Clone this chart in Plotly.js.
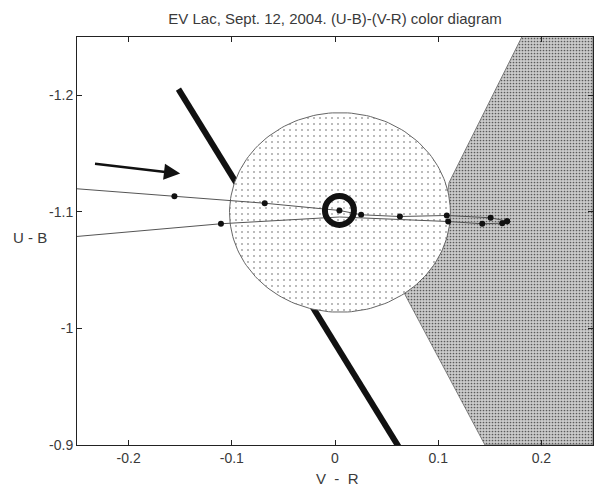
<!DOCTYPE html>
<html><head><meta charset="utf-8">
<script src="https://cdn.plot.ly/plotly-3.0.1.min.js"></script>
<style>body{margin:0;background:#fff}#chart{width:595px;height:490px}</style>
</head><body><div id="chart"></div>
<script>
// Outgoing branch of the flare track (upper-left line)
const outVR = [-0.30, -0.1556, -0.0681, 0.0043, 0.0253, 0.0629, 0.1083, 0.1508, 0.1668];
const outUB = [-1.1232, -1.1134, -1.1074, -1.1012, -1.0975, -1.0960, -1.0969, -1.0949, -1.0920];
// Returning branch (lower-left line)
const backVR = [0.1668, 0.1620, 0.1427, 0.1097, 0.0043, -0.1105, -0.30];
const backUB = [-1.0920, -1.0903, -1.0898, -1.0917, -1.0956, -1.0898, -1.0750];
const backObserved = [true, true, true, true, false, true, true];
// Quiescent star point
const quietVR = [0.0043];
const quietUB = [-1.1012];
// Uncertainty ellipse around the quiescent point
const ellCenter = [0.0048, -1.0995];
const ellRadii = [0.107, 0.0856];
// Shaded region (right)
const regionVR = [0.181, 0.1105, 0.106, 0.0671, 0.1453, 0.25, 0.25];
const regionUB = [-1.25, -1.1251, -1.0975, -1.0302, -0.90, -0.90, -1.25];
// Thick black line
const bandVR = [-0.1517, 0.0641];
const bandUB = [-1.2053, -0.895];
// Arrow (direction of the track)
const arrowFrom = [-0.234, -1.1414];
const arrowTo = [-0.150, -1.1328];
// Ticks
const xTickVals = [-0.2, -0.1, 0, 0.1, 0.2];
const xTickText = ['-0.2', '-0.1', '0', '0.1', '0.2'];
const yTickVals = [-1.2, -1.1, -1, -0.9];
const yTickText = ['-1.2', '-1.1', '-1', '-0.9'];

const ex = [], ey = [];
const N = 180;
for (let i = 0; i <= N; i++) {
  const t = 2 * Math.PI * i / N;
  ex.push(ellCenter[0] + ellRadii[0] * Math.cos(t));
  ey.push(ellCenter[1] + ellRadii[1] * Math.sin(t));
}
const bmx = backVR.filter((v, i) => backObserved[i]);
const bmy = backUB.filter((v, i) => backObserved[i]);

const FONT = '"Liberation Sans", Arial, sans-serif';
const TXT = '#3a3a3a';

const traces = [
  {x: regionVR, y: regionUB, mode: 'lines', fill: 'toself',
   line: {color: '#666', width: 0.8}, fillcolor: '#bababa',
   fillpattern: {shape: '.', size: 3, solidity: 0.25, fgcolor: '#5a5a5a', bgcolor: '#cbcbcb'},
   hoverinfo: 'skip'},
  {x: bandVR, y: bandUB, mode: 'lines', line: {color: '#111', width: 6}, hoverinfo: 'skip'},
  {x: ex, y: ey, mode: 'lines', fill: 'toself', line: {color: '#666', width: 1},
   fillcolor: '#fff',
   fillpattern: {shape: '.', size: 6, solidity: 0.04, fgcolor: '#444', bgcolor: '#fff'},
   hoverinfo: 'skip'},
  {x: outVR, y: outUB, mode: 'lines+markers', line: {color: '#555', width: 1},
   marker: {color: '#111', size: 6}},
  {x: backVR, y: backUB, mode: 'lines', line: {color: '#555', width: 1}},
  {x: bmx, y: bmy, mode: 'markers', marker: {color: '#111', size: 6}},
  {x: quietVR, y: quietUB, mode: 'markers',
   marker: {symbol: 'circle-open', size: 29, color: '#111', line: {width: 6, color: '#111'}}}
];

const axisCommon = {
  showgrid: false, zeroline: false, showline: true, linecolor: '#222', linewidth: 1,
  mirror: 'ticks', ticks: 'inside', ticklen: 5, tickcolor: '#222', tickwidth: 1,
  tickmode: 'array', tickfont: {family: FONT, size: 14, color: TXT}
};

const layout = {
  width: 595, height: 490,
  margin: {l: 77, r: 2, t: 37, b: 45},
  paper_bgcolor: '#fff', plot_bgcolor: '#fff',
  showlegend: false,
  font: {family: FONT, color: TXT},
  title: {text: 'EV Lac, Sept. 12, 2004. (U-B)-(V-R) color diagram',
          font: {family: FONT, size: 15, color: TXT},
          x: 0.5, xref: 'paper', xanchor: 'center', y: 1 - 19 / 490, yanchor: 'middle'},
  xaxis: Object.assign({}, axisCommon, {range: [-0.25, 0.25], tickvals: xTickVals, ticktext: xTickText}),
  yaxis: Object.assign({}, axisCommon, {range: [-0.9, -1.25], tickvals: yTickVals, ticktext: yTickText}),
  annotations: [
    {x: arrowTo[0], y: arrowTo[1], ax: arrowFrom[0], ay: arrowFrom[1],
     xref: 'x', yref: 'y', axref: 'x', ayref: 'y', text: '', showarrow: true,
     arrowhead: 2, arrowsize: 1.3, arrowwidth: 2.5, arrowcolor: '#111'},
    {text: 'U - B', xref: 'paper', yref: 'paper', x: (29.5 - 77) / 516, y: 1 - (237 - 37) / 408,
     xanchor: 'center', yanchor: 'middle', showarrow: false, font: {family: FONT, size: 15, color: TXT}},
    {text: 'V  -  R', xref: 'paper', yref: 'paper', x: (337 - 77) / 516, y: 1 - (479 - 37) / 408,
     xanchor: 'center', yanchor: 'middle', showarrow: false, font: {family: FONT, size: 15, color: TXT}}
  ]
};

Plotly.newPlot('chart', traces, layout, {displayModeBar: false, staticPlot: true});
</script>
</body></html>
